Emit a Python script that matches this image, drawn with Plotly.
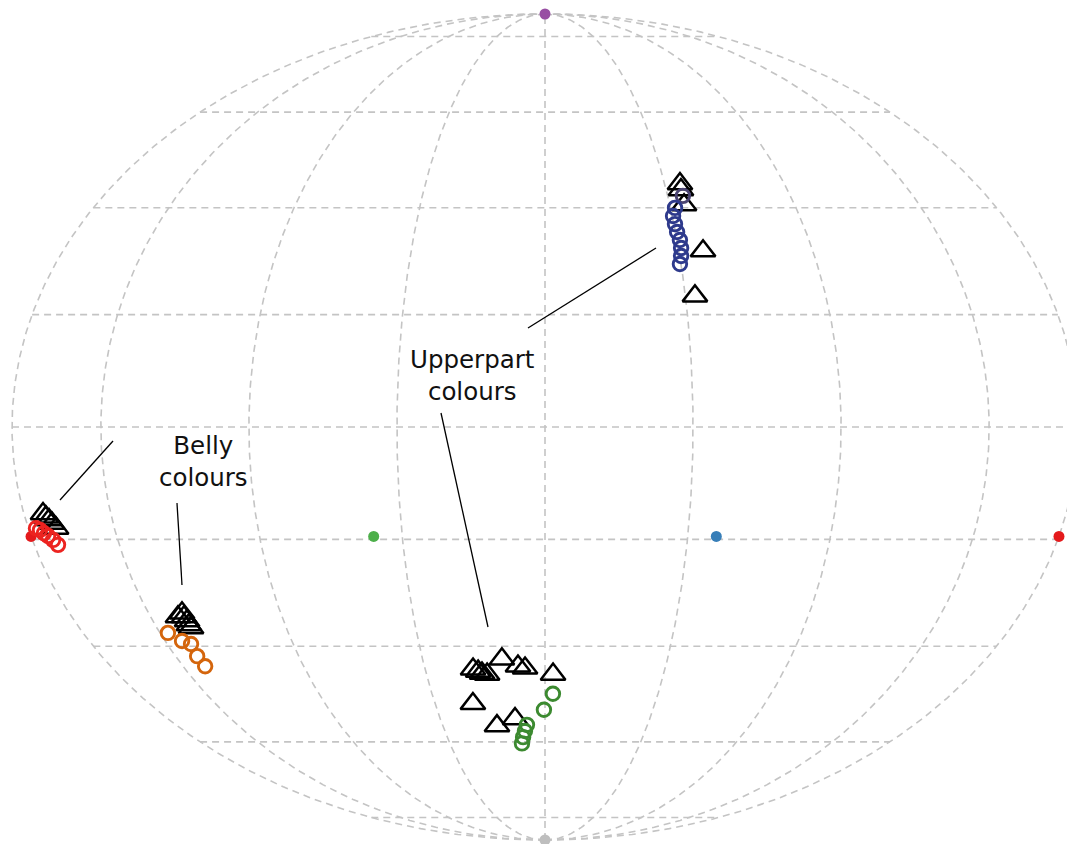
import numpy as np
import plotly.graph_objects as go

# ---------------- data (hue longitude / latitude, degrees) ----------------
vert_lon = [0, 60, -60, 180, -180, 0]
vert_lat = [90, -19.47, -19.47, -19.47, -19.47, -90]
vert_col = ["#984EA3", "#377EB8", "#4DAF4A", "#E41A1C", "#E41A1C", "#BEBEBE"]

# Belly patch 1 (red)
belly_red_tri_lon = [-173.4, -172.7, -171.9, -171.2, -170.3]
belly_red_tri_lat = [-15.4, -16.0, -16.5, -17.1, -18.0]
belly_red_pt_lon = [-177.3, -176.1, -175.1, -174.0, -172.7, -171.6]
belly_red_pt_lat = [-18.0, -18.3, -18.9, -19.4, -20.1, -21.0]

# Belly patch 2 (orange)
belly_org_tri_lon = [-139.6, -137.3, -137.3, -136.9, -137.0, -136.8]
belly_org_tri_lat = [-34.35, -33.6, -34.35, -35.1, -35.86, -36.44]
belly_org_pt_lon = [-146.9, -143.3, -140.5, -141.2, -140.8]
belly_org_pt_lat = [-37.4, -38.96, -39.56, -41.94, -43.94]

# Upperpart patch 1 (green)
upper_grn_tri_lon = [-30.0, -28.0, -26.5, -24.4, -17.6, -11.2, -8.3, 3.4, -32.8, -23.5, -14.3]
upper_grn_tri_lat = [-44.54, -44.95, -45.35, -45.56, -42.51, -43.94, -44.34, -45.56, -51.64, -56.42, -54.86]
upper_grn_pt_lon = [3.5, -0.5, -8.8, -10.0, -11.2, -12.1]
upper_grn_pt_lat = [-49.56, -52.92, -56.19, -57.55, -58.93, -60.35]

# Upperpart patch 2 (blue)
upper_blu_tri_lon = [56.4, 56.1, 55.7, 59.0, 53.4]
upper_blu_tri_lat = [44.74, 43.54, 40.54, 31.72, 23.39]
upper_blu_pt_lon = [56.2, 51.8, 50.3, 50.4, 50.6, 51.1, 51.0, 50.5, 49.6]
upper_blu_pt_lat = [42.33, 39.96, 38.38, 36.82, 35.30, 33.79, 32.28, 30.78, 29.29]
upper_blu_pt_col = ["#4B4472"] + ["#2E3A8C"] * 8

grid_lat = [-80, -60, -40, -20, 0, 20, 40, 60, 80]
grid_lon = [-180, -150, -100, -50, 0, 50, 100, 150, 180]


# ---------------- Mollweide projection ----------------
def mollweide(lon, lat):
    lon = np.radians(np.asarray(lon, dtype=float))
    lat = np.radians(np.asarray(lat, dtype=float))
    t = lat.copy()
    target = np.pi * np.sin(lat)
    for _ in range(60):
        den = 1 + np.cos(t)
        safe = np.where(den < 1e-10, 1.0, den)
        step = np.where(den < 1e-10, 0.0, (t + np.sin(t) - target) / safe)
        t = t - step
    t = np.where(np.abs(lat) >= np.pi / 2 - 1e-9, np.sign(lat) * np.pi, t)
    th = t / 2
    x = 2 * np.sqrt(2) / np.pi * lon * np.cos(th)
    y = np.sqrt(2) * np.sin(th)
    return x, y


fig = go.Figure()

# graticule
gx, gy = [], []
lon_line = np.linspace(-180, 180, 361)
for la in grid_lat:
    x, y = mollweide(lon_line, np.full_like(lon_line, la))
    gx += list(x) + [None]
    gy += list(y) + [None]
lat_line = np.linspace(-90, 90, 361)
for lo in grid_lon:
    x, y = mollweide(np.full_like(lat_line, lo), lat_line)
    gx += list(x) + [None]
    gy += list(y) + [None]
fig.add_trace(go.Scatter(x=gx, y=gy, mode="lines", hoverinfo="skip",
                         line=dict(color="#C4C4C4", width=1.6, dash="7px,5px")))

# vertices
vx, vy = mollweide(vert_lon, vert_lat)
fig.add_trace(go.Scatter(x=vx, y=vy, mode="markers",
                         marker=dict(size=11, color=vert_col, line=dict(width=0))))


def add_tri(lon, lat):
    x, y = mollweide(lon, lat)
    fig.add_trace(go.Scatter(x=x, y=y, mode="markers",
                             marker=dict(symbol="triangle-up-open", size=21.5, color="black",
                                         line=dict(width=2.5, color="black"))))


def add_pts(lon, lat, col):
    x, y = mollweide(lon, lat)
    fig.add_trace(go.Scatter(x=x, y=y, mode="markers",
                             marker=dict(symbol="circle-open", size=13.5, color=col,
                                         line=dict(width=2.9, color=col))))


add_tri(belly_red_tri_lon, belly_red_tri_lat)
add_tri(belly_org_tri_lon, belly_org_tri_lat)
add_tri(upper_grn_tri_lon, upper_grn_tri_lat)
add_tri(upper_blu_tri_lon, upper_blu_tri_lat)
add_pts(belly_red_pt_lon, belly_red_pt_lat, "#EC2320")
add_pts(belly_org_pt_lon, belly_org_pt_lat, "#D4650C")
add_pts(upper_grn_pt_lon, upper_grn_pt_lat, "#3C8A30")
add_pts(upper_blu_pt_lon, upper_blu_pt_lat, upper_blu_pt_col)

# ---------------- layout: page offset (body margin) compensation ----------------
W, H = 1075, 844
OFF = 8                      # the page places the figure 8 px from the corner
CX, CY = 545 - OFF, 427 - OFF  # ellipse centre in figure pixels
KX = 533 / (2 * np.sqrt(2))   # px per projection unit, horizontal
KY = 413 / np.sqrt(2)         # px per projection unit, vertical
x_range = [(0 - CX) / KX, (W - CX) / KX]
y_range = [(CY - H) / KY, CY / KY]


def px(sx):
    return (sx - OFF) / W


def py(sy):
    return 1 - (sy - OFF) / H


font = dict(family="DejaVu Sans, sans-serif", size=24.5, color="#111111")
fig.add_annotation(x=px(157), y=py(462), xref="paper", yref="paper",
                   text="Belly<br>colours", showarrow=False, font=font, align="center")
fig.add_annotation(x=px(472), y=py(375), xref="paper", yref="paper",
                   text="Upperpart<br>colours", showarrow=False, font=font, align="center")

leaders = [((60, 500), (113, 441)), ((182, 585), (177, 503)),
           ((528, 328), (656, 248)), ((441, 413), (488, 627))]
for (a, b) in leaders:
    fig.add_shape(type="line", xref="paper", yref="paper",
                  x0=px(a[0]), y0=py(a[1]), x1=px(b[0]), y1=py(b[1]),
                  line=dict(color="black", width=1.3))

fig.update_layout(
    width=W, height=H, margin=dict(l=0, r=0, t=0, b=0),
    paper_bgcolor="white", plot_bgcolor="white", showlegend=False,
    xaxis=dict(range=x_range, visible=False, showgrid=False, zeroline=False),
    yaxis=dict(range=y_range, visible=False, showgrid=False, zeroline=False),
)
fig.write_html("out.html")
